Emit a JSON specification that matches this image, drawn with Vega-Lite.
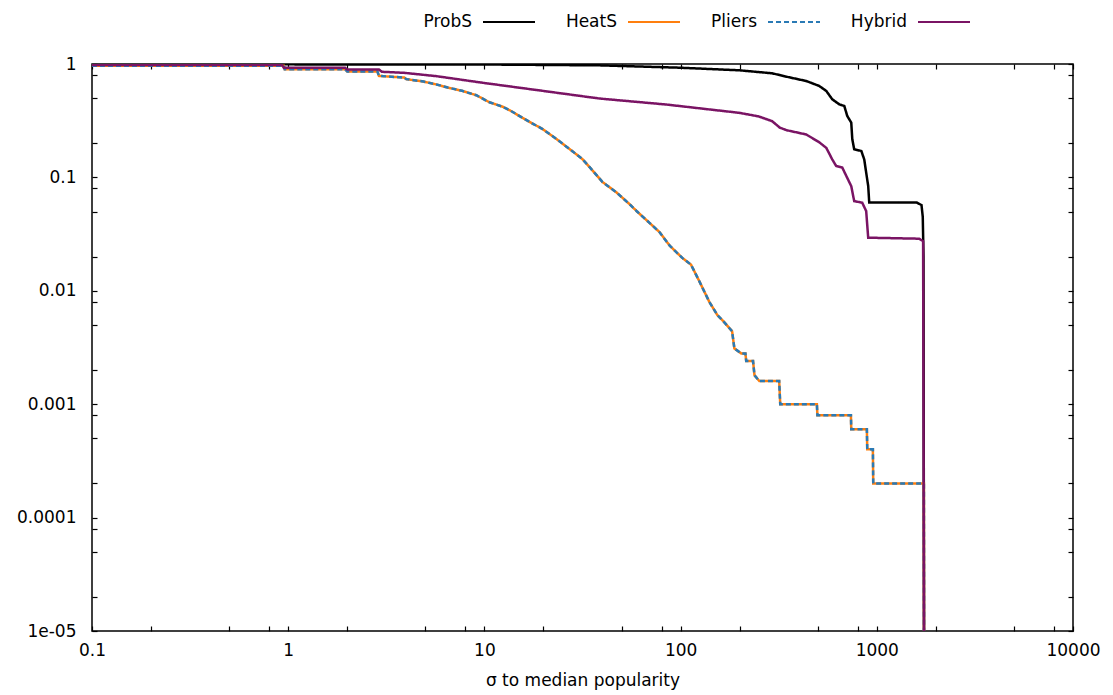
{
  "$schema": "https://vega.github.io/schema/vega-lite/v6.json",
  "width": 981,
  "height": 567,
  "autosize": {"type": "none"},
  "padding": {"left": 92, "top": 64, "right": 40, "bottom": 64},
  "background": "white",
  "config": {
    "font": "DejaVu Sans",
    "view": {"stroke": "black", "strokeWidth": 1.5}
  },
  "datasets": {
    "curves": [
      {"series": "ProbS", "sigma": 0.1, "frac": 0.995},
      {"series": "ProbS", "sigma": 10, "frac": 0.99},
      {"series": "ProbS", "sigma": 38.6, "frac": 0.973},
      {"series": "ProbS", "sigma": 98.6, "frac": 0.928},
      {"series": "ProbS", "sigma": 199, "frac": 0.88},
      {"series": "ProbS", "sigma": 293, "frac": 0.828},
      {"series": "ProbS", "sigma": 346, "frac": 0.773},
      {"series": "ProbS", "sigma": 437, "frac": 0.708},
      {"series": "ProbS", "sigma": 509, "frac": 0.64},
      {"series": "ProbS", "sigma": 553, "frac": 0.578},
      {"series": "ProbS", "sigma": 593, "frac": 0.488},
      {"series": "ProbS", "sigma": 644, "frac": 0.441},
      {"series": "ProbS", "sigma": 683, "frac": 0.426},
      {"series": "ProbS", "sigma": 707, "frac": 0.348},
      {"series": "ProbS", "sigma": 741, "frac": 0.304},
      {"series": "ProbS", "sigma": 750, "frac": 0.217},
      {"series": "ProbS", "sigma": 767, "frac": 0.177},
      {"series": "ProbS", "sigma": 834, "frac": 0.171},
      {"series": "ProbS", "sigma": 863, "frac": 0.144},
      {"series": "ProbS", "sigma": 883, "frac": 0.11},
      {"series": "ProbS", "sigma": 904, "frac": 0.084},
      {"series": "ProbS", "sigma": 915, "frac": 0.06},
      {"series": "ProbS", "sigma": 1600, "frac": 0.06},
      {"series": "ProbS", "sigma": 1690, "frac": 0.057},
      {"series": "ProbS", "sigma": 1715, "frac": 0.045},
      {"series": "ProbS", "sigma": 1730, "frac": 0.02},
      {"series": "ProbS", "sigma": 1740, "frac": 0.00001},

      {"series": "HeatS", "sigma": 0.1, "frac": 0.966},
      {"series": "HeatS", "sigma": 0.95, "frac": 0.966},
      {"series": "HeatS", "sigma": 0.96, "frac": 0.9},
      {"series": "HeatS", "sigma": 1.95, "frac": 0.9},
      {"series": "HeatS", "sigma": 2.0, "frac": 0.86},
      {"series": "HeatS", "sigma": 2.85, "frac": 0.86},
      {"series": "HeatS", "sigma": 2.9, "frac": 0.785},
      {"series": "HeatS", "sigma": 3.9, "frac": 0.76},
      {"series": "HeatS", "sigma": 4.0, "frac": 0.735},
      {"series": "HeatS", "sigma": 4.9, "frac": 0.7},
      {"series": "HeatS", "sigma": 5.7, "frac": 0.66},
      {"series": "HeatS", "sigma": 6.5, "frac": 0.62},
      {"series": "HeatS", "sigma": 7.7, "frac": 0.58},
      {"series": "HeatS", "sigma": 9.1, "frac": 0.53},
      {"series": "HeatS", "sigma": 10.6, "frac": 0.46},
      {"series": "HeatS", "sigma": 12.4, "frac": 0.42},
      {"series": "HeatS", "sigma": 13.5, "frac": 0.39},
      {"series": "HeatS", "sigma": 15.7, "frac": 0.334},
      {"series": "HeatS", "sigma": 17.5, "frac": 0.3},
      {"series": "HeatS", "sigma": 19.8, "frac": 0.267},
      {"series": "HeatS", "sigma": 23.3, "frac": 0.218},
      {"series": "HeatS", "sigma": 28.1, "frac": 0.17},
      {"series": "HeatS", "sigma": 31.6, "frac": 0.145},
      {"series": "HeatS", "sigma": 34.4, "frac": 0.123},
      {"series": "HeatS", "sigma": 40, "frac": 0.091},
      {"series": "HeatS", "sigma": 47, "frac": 0.074},
      {"series": "HeatS", "sigma": 55, "frac": 0.058},
      {"series": "HeatS", "sigma": 60, "frac": 0.05},
      {"series": "HeatS", "sigma": 67, "frac": 0.042},
      {"series": "HeatS", "sigma": 78, "frac": 0.033},
      {"series": "HeatS", "sigma": 88, "frac": 0.025},
      {"series": "HeatS", "sigma": 102, "frac": 0.0195},
      {"series": "HeatS", "sigma": 113, "frac": 0.017},
      {"series": "HeatS", "sigma": 125, "frac": 0.012},
      {"series": "HeatS", "sigma": 140, "frac": 0.008},
      {"series": "HeatS", "sigma": 154, "frac": 0.0061},
      {"series": "HeatS", "sigma": 165, "frac": 0.0054},
      {"series": "HeatS", "sigma": 177, "frac": 0.0047},
      {"series": "HeatS", "sigma": 183, "frac": 0.0044},
      {"series": "HeatS", "sigma": 188, "frac": 0.0031},
      {"series": "HeatS", "sigma": 204, "frac": 0.0028},
      {"series": "HeatS", "sigma": 214, "frac": 0.0028},
      {"series": "HeatS", "sigma": 216, "frac": 0.0024},
      {"series": "HeatS", "sigma": 234, "frac": 0.0024},
      {"series": "HeatS", "sigma": 238, "frac": 0.0018},
      {"series": "HeatS", "sigma": 252, "frac": 0.0016},
      {"series": "HeatS", "sigma": 318, "frac": 0.0016},
      {"series": "HeatS", "sigma": 322, "frac": 0.001},
      {"series": "HeatS", "sigma": 495, "frac": 0.001},
      {"series": "HeatS", "sigma": 498, "frac": 0.0008},
      {"series": "HeatS", "sigma": 738, "frac": 0.0008},
      {"series": "HeatS", "sigma": 741, "frac": 0.0006},
      {"series": "HeatS", "sigma": 890, "frac": 0.0006},
      {"series": "HeatS", "sigma": 894, "frac": 0.0004},
      {"series": "HeatS", "sigma": 955, "frac": 0.0004},
      {"series": "HeatS", "sigma": 959, "frac": 0.0002},
      {"series": "HeatS", "sigma": 1738, "frac": 0.0002},
      {"series": "HeatS", "sigma": 1740, "frac": 0.00001},

      {"series": "Pliers", "sigma": 0.1, "frac": 0.966},
      {"series": "Pliers", "sigma": 0.95, "frac": 0.966},
      {"series": "Pliers", "sigma": 0.96, "frac": 0.9},
      {"series": "Pliers", "sigma": 1.95, "frac": 0.9},
      {"series": "Pliers", "sigma": 2.0, "frac": 0.86},
      {"series": "Pliers", "sigma": 2.85, "frac": 0.86},
      {"series": "Pliers", "sigma": 2.9, "frac": 0.785},
      {"series": "Pliers", "sigma": 3.9, "frac": 0.76},
      {"series": "Pliers", "sigma": 4.0, "frac": 0.735},
      {"series": "Pliers", "sigma": 4.9, "frac": 0.7},
      {"series": "Pliers", "sigma": 5.7, "frac": 0.66},
      {"series": "Pliers", "sigma": 6.5, "frac": 0.62},
      {"series": "Pliers", "sigma": 7.7, "frac": 0.58},
      {"series": "Pliers", "sigma": 9.1, "frac": 0.53},
      {"series": "Pliers", "sigma": 10.6, "frac": 0.46},
      {"series": "Pliers", "sigma": 12.4, "frac": 0.42},
      {"series": "Pliers", "sigma": 13.5, "frac": 0.39},
      {"series": "Pliers", "sigma": 15.7, "frac": 0.334},
      {"series": "Pliers", "sigma": 17.5, "frac": 0.3},
      {"series": "Pliers", "sigma": 19.8, "frac": 0.267},
      {"series": "Pliers", "sigma": 23.3, "frac": 0.218},
      {"series": "Pliers", "sigma": 28.1, "frac": 0.17},
      {"series": "Pliers", "sigma": 31.6, "frac": 0.145},
      {"series": "Pliers", "sigma": 34.4, "frac": 0.123},
      {"series": "Pliers", "sigma": 40, "frac": 0.091},
      {"series": "Pliers", "sigma": 47, "frac": 0.074},
      {"series": "Pliers", "sigma": 55, "frac": 0.058},
      {"series": "Pliers", "sigma": 60, "frac": 0.05},
      {"series": "Pliers", "sigma": 67, "frac": 0.042},
      {"series": "Pliers", "sigma": 78, "frac": 0.033},
      {"series": "Pliers", "sigma": 88, "frac": 0.025},
      {"series": "Pliers", "sigma": 102, "frac": 0.0195},
      {"series": "Pliers", "sigma": 113, "frac": 0.017},
      {"series": "Pliers", "sigma": 125, "frac": 0.012},
      {"series": "Pliers", "sigma": 140, "frac": 0.008},
      {"series": "Pliers", "sigma": 154, "frac": 0.0061},
      {"series": "Pliers", "sigma": 165, "frac": 0.0054},
      {"series": "Pliers", "sigma": 177, "frac": 0.0047},
      {"series": "Pliers", "sigma": 183, "frac": 0.0044},
      {"series": "Pliers", "sigma": 188, "frac": 0.0031},
      {"series": "Pliers", "sigma": 204, "frac": 0.0028},
      {"series": "Pliers", "sigma": 214, "frac": 0.0028},
      {"series": "Pliers", "sigma": 216, "frac": 0.0024},
      {"series": "Pliers", "sigma": 234, "frac": 0.0024},
      {"series": "Pliers", "sigma": 238, "frac": 0.0018},
      {"series": "Pliers", "sigma": 252, "frac": 0.0016},
      {"series": "Pliers", "sigma": 318, "frac": 0.0016},
      {"series": "Pliers", "sigma": 322, "frac": 0.001},
      {"series": "Pliers", "sigma": 495, "frac": 0.001},
      {"series": "Pliers", "sigma": 498, "frac": 0.0008},
      {"series": "Pliers", "sigma": 738, "frac": 0.0008},
      {"series": "Pliers", "sigma": 741, "frac": 0.0006},
      {"series": "Pliers", "sigma": 890, "frac": 0.0006},
      {"series": "Pliers", "sigma": 894, "frac": 0.0004},
      {"series": "Pliers", "sigma": 955, "frac": 0.0004},
      {"series": "Pliers", "sigma": 959, "frac": 0.0002},
      {"series": "Pliers", "sigma": 1738, "frac": 0.0002},
      {"series": "Pliers", "sigma": 1740, "frac": 0.00001},

      {"series": "Hybrid", "sigma": 0.1, "frac": 0.98},
      {"series": "Hybrid", "sigma": 0.93, "frac": 0.98},
      {"series": "Hybrid", "sigma": 0.95, "frac": 0.925},
      {"series": "Hybrid", "sigma": 1.95, "frac": 0.925},
      {"series": "Hybrid", "sigma": 2.0, "frac": 0.894},
      {"series": "Hybrid", "sigma": 2.9, "frac": 0.894},
      {"series": "Hybrid", "sigma": 3.0, "frac": 0.854},
      {"series": "Hybrid", "sigma": 3.9, "frac": 0.836},
      {"series": "Hybrid", "sigma": 5.7, "frac": 0.781},
      {"series": "Hybrid", "sigma": 9.8, "frac": 0.683},
      {"series": "Hybrid", "sigma": 17.6, "frac": 0.596},
      {"series": "Hybrid", "sigma": 38.6, "frac": 0.496},
      {"series": "Hybrid", "sigma": 84.7, "frac": 0.439},
      {"series": "Hybrid", "sigma": 199, "frac": 0.371},
      {"series": "Hybrid", "sigma": 250, "frac": 0.345},
      {"series": "Hybrid", "sigma": 293, "frac": 0.313},
      {"series": "Hybrid", "sigma": 320, "frac": 0.275},
      {"series": "Hybrid", "sigma": 346, "frac": 0.261},
      {"series": "Hybrid", "sigma": 437, "frac": 0.239},
      {"series": "Hybrid", "sigma": 509, "frac": 0.204},
      {"series": "Hybrid", "sigma": 553, "frac": 0.182},
      {"series": "Hybrid", "sigma": 593, "frac": 0.144},
      {"series": "Hybrid", "sigma": 621, "frac": 0.126},
      {"series": "Hybrid", "sigma": 667, "frac": 0.122},
      {"series": "Hybrid", "sigma": 707, "frac": 0.099},
      {"series": "Hybrid", "sigma": 741, "frac": 0.0837},
      {"series": "Hybrid", "sigma": 767, "frac": 0.0618},
      {"series": "Hybrid", "sigma": 843, "frac": 0.0598},
      {"series": "Hybrid", "sigma": 883, "frac": 0.0504},
      {"series": "Hybrid", "sigma": 904, "frac": 0.0294},
      {"series": "Hybrid", "sigma": 1644, "frac": 0.0288},
      {"series": "Hybrid", "sigma": 1722, "frac": 0.0274},
      {"series": "Hybrid", "sigma": 1740, "frac": 0.00001}
    ]
  },
  "data": {"name": "curves"},
  "resolve": {"axis": {"x": "independent", "y": "independent"}},
  "layer": [
    {
      "mark": {"type": "line", "strokeWidth": 2.5, "clip": true},
      "encoding": {
        "x": {
          "field": "sigma", "type": "quantitative",
          "scale": {"type": "log", "domain": [0.1, 10000], "nice": false},
          "axis": {
            "orient": "bottom",
            "values": [0.1, 0.2, 0.5, 0.8, 1, 2, 5, 8, 10, 20, 50, 80, 100, 200, 500, 800, 1000, 2000, 5000, 8000, 10000],
            "labelExpr": "abs(log(datum.value)/LN10 - round(log(datum.value)/LN10)) < 0.001 ? format(datum.value, '~g') : ''",
            "labelOverlap": false,
            "labelFlush": false,
            "labelFontSize": 17,
            "labelColor": "black",
            "labelPadding": 16,
            "ticks": true,
            "tickSize": -5,
            "tickColor": "black",
            "tickWidth": 1.2,
            "domain": false,
            "grid": false,
            "title": "σ to median popularity",
            "titleFontSize": 17,
            "titleFontWeight": "normal",
            "titleColor": "black",
            "titlePadding": 14,
            "encode": {"ticks": {"update": {"y2": {"signal": "abs(log(datum.value)/LN10 - round(log(datum.value)/LN10)) < 0.001 ? -10 : -5"}}}}
          }
        },
        "y": {
          "field": "frac", "type": "quantitative",
          "scale": {"type": "log", "domain": [0.00001, 1], "nice": false},
          "axis": {
            "orient": "left",
            "values": [0.00001, 0.00002, 0.00005, 0.00008, 0.0001, 0.0002, 0.0005, 0.0008, 0.001, 0.002, 0.005, 0.008, 0.01, 0.02, 0.05, 0.08, 0.1, 0.2, 0.5, 0.8, 1],
            "labelExpr": "abs(log(datum.value)/LN10 - round(log(datum.value)/LN10)) < 0.001 ? (datum.value < 0.00002 ? '1e-05' : format(datum.value, '~g')) : ''",
            "labelOverlap": false,
            "labelFlush": false,
            "labelFontSize": 17,
            "labelColor": "black",
            "labelPadding": 21,
            "ticks": true,
            "tickSize": -5,
            "tickColor": "black",
            "tickWidth": 1.2,
            "domain": false,
            "grid": false,
            "title": null,
            "encode": {"ticks": {"update": {"x2": {"signal": "abs(log(datum.value)/LN10 - round(log(datum.value)/LN10)) < 0.001 ? 10 : 5"}}}}
          }
        },
        "color": {
          "field": "series", "type": "nominal",
          "scale": {"domain": ["ProbS", "HeatS", "Pliers", "Hybrid"], "range": ["#000000", "#ff7f0e", "#2a7ab5", "#7a1464"]},
          "legend": {
            "orient": "none",
            "legendX": 390,
            "legendY": -69,
            "direction": "horizontal",
            "title": null,
            "symbolType": "stroke",
            "symbolSize": 2704,
            "symbolStrokeWidth": 2,
            "labelFontSize": 17,
            "labelColor": "black",
            "labelAlign": "right",
            "labelOffset": -64,
            "columnPadding": 26
          }
        },
        "strokeDash": {
          "field": "series", "type": "nominal",
          "scale": {"domain": ["ProbS", "HeatS", "Pliers", "Hybrid"], "range": [[1, 0], [1, 0], [5, 3], [1, 0]]},
          "legend": {
            "orient": "none",
            "legendX": 390,
            "legendY": -69,
            "direction": "horizontal",
            "title": null,
            "symbolType": "stroke",
            "symbolSize": 2704,
            "symbolStrokeWidth": 2,
            "labelFontSize": 17,
            "labelColor": "black",
            "labelAlign": "right",
            "labelOffset": -64,
            "columnPadding": 26
          }
        }
      }
    },
    {
      "mark": {"type": "point", "opacity": 0},
      "encoding": {
        "x": {
          "field": "sigma", "type": "quantitative",
          "scale": {"type": "log", "domain": [0.1, 10000], "nice": false},
          "axis": {
            "orient": "top",
            "values": [0.1, 0.2, 0.5, 0.8, 1, 2, 5, 8, 10, 20, 50, 80, 100, 200, 500, 800, 1000, 2000, 5000, 8000, 10000],
            "labels": false,
            "ticks": true,
            "tickSize": -5,
            "tickColor": "black",
            "tickWidth": 1.2,
            "domain": false,
            "grid": false,
            "title": null,
            "encode": {"ticks": {"update": {"y2": {"signal": "abs(log(datum.value)/LN10 - round(log(datum.value)/LN10)) < 0.001 ? 10 : 5"}}}}
          }
        },
        "y": {
          "field": "frac", "type": "quantitative",
          "scale": {"type": "log", "domain": [0.00001, 1], "nice": false},
          "axis": {
            "orient": "right",
            "values": [0.00001, 0.00002, 0.00005, 0.00008, 0.0001, 0.0002, 0.0005, 0.0008, 0.001, 0.002, 0.005, 0.008, 0.01, 0.02, 0.05, 0.08, 0.1, 0.2, 0.5, 0.8, 1],
            "labels": false,
            "ticks": true,
            "tickSize": -5,
            "tickColor": "black",
            "tickWidth": 1.2,
            "domain": false,
            "grid": false,
            "title": null,
            "encode": {"ticks": {"update": {"x2": {"signal": "abs(log(datum.value)/LN10 - round(log(datum.value)/LN10)) < 0.001 ? -10 : -5"}}}}
          }
        }
      }
    }
  ]
}
